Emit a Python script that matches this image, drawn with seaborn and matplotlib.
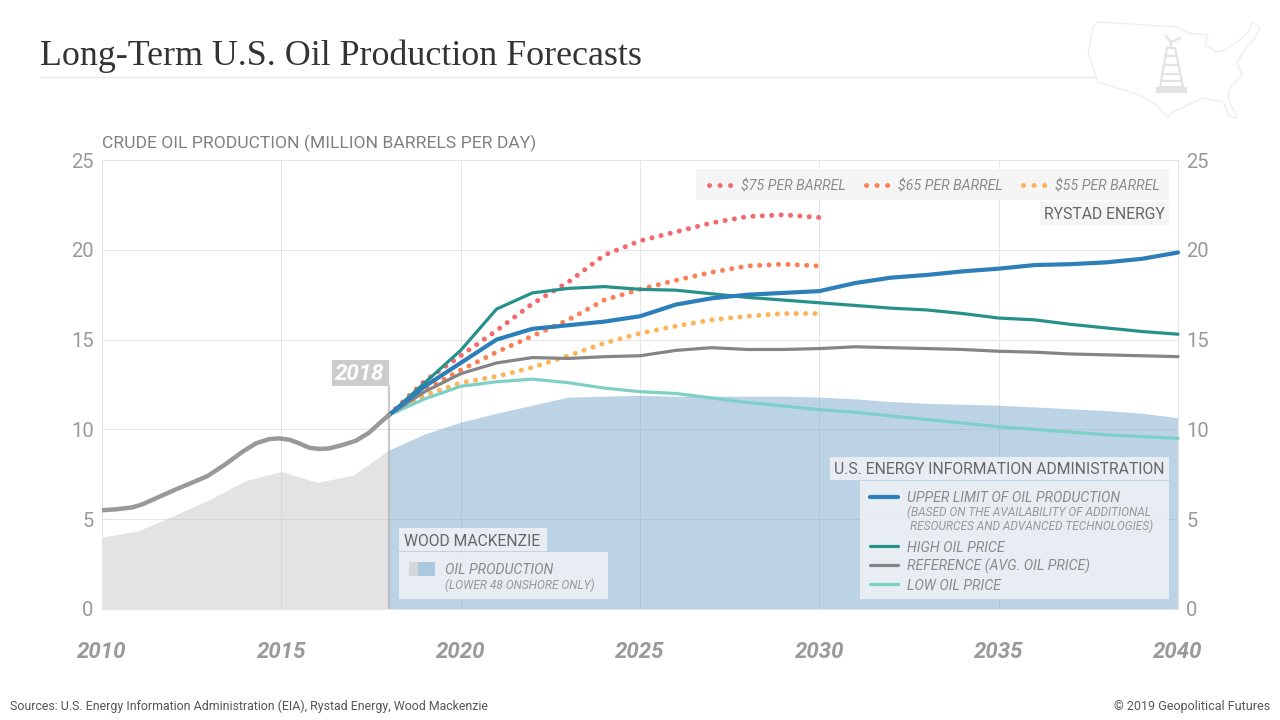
import matplotlib
matplotlib.use("Agg")
import matplotlib.pyplot as plt
from matplotlib.patches import Rectangle, Polygon
import seaborn as sns

# values
hist_years = [2010, 2010.39, 2010.85, 2011.13, 2011.6, 2012.06, 2012.53, 2012.94, 2013.45, 2013.92, 2014.29, 2014.66, 2014.94,
              2015.22, 2015.5, 2015.78, 2016.05, 2016.33, 2016.7, 2017.08, 2017.45, 2017.7, 2018]
hist_oil = [5.5, 5.55, 5.66, 5.83, 6.25, 6.66, 7.05, 7.4, 8.07, 8.76, 9.22, 9.46, 9.5,
            9.43, 9.22, 8.98, 8.91, 8.94, 9.13, 9.37, 9.82, 10.28, 10.8]

wm_years_past = list(range(2010, 2019))
wm_past = [4.0, 4.35, 5.2, 6.1, 7.15, 7.65, 7.05, 7.45, 8.85]
wm_years_future = list(range(2018, 2041))
wm_future = [8.85, 9.75, 10.4, 10.9, 11.35, 11.8, 11.85, 11.9, 11.85, 11.85, 11.85, 11.85, 11.8, 11.7,
             11.55, 11.45, 11.4, 11.35, 11.25, 11.15, 11.05, 10.9, 10.65]

eia_years = list(range(2018, 2041))
eia_upper = [10.8, 12.4, 13.7, 15.0, 15.6, 15.8, 16.0, 16.3, 16.95, 17.3, 17.5, 17.6, 17.7, 18.15,
             18.45, 18.6, 18.8, 18.95, 19.15, 19.2, 19.3, 19.5, 19.85]
eia_high = [10.8, 12.6, 14.4, 16.7, 17.6, 17.85, 17.95, 17.8, 17.75, 17.55, 17.35, 17.2, 17.05, 16.9,
            16.75, 16.65, 16.45, 16.2, 16.1, 15.85, 15.65, 15.45, 15.3]
eia_ref = [10.8, 12.1, 13.1, 13.7, 14.0, 13.95, 14.05, 14.1, 14.4, 14.55, 14.45, 14.45, 14.5, 14.6,
           14.55, 14.5, 14.45, 14.35, 14.3, 14.2, 14.15, 14.1, 14.05]
eia_low = [10.8, 11.7, 12.4, 12.65, 12.8, 12.6, 12.3, 12.1, 12.0, 11.75, 11.5, 11.3, 11.1, 10.95,
           10.75, 10.55, 10.35, 10.15, 10.0, 9.85, 9.7, 9.6, 9.5]

rystad_years = list(range(2018, 2031))
rystad_75 = [10.8, 12.7, 14.1, 15.5, 17.0, 18.2, 19.7, 20.5, 21.0, 21.5, 21.85, 21.95, 21.8]
rystad_65 = [10.8, 12.2, 13.3, 14.3, 15.2, 16.1, 17.2, 17.8, 18.3, 18.75, 19.1, 19.2, 19.1]
rystad_55 = [10.8, 11.9, 12.6, 12.95, 13.45, 14.1, 14.8, 15.35, 15.75, 16.1, 16.3, 16.45, 16.45]

x_ticks = [2010, 2015, 2020, 2025, 2030, 2035, 2040]
y_ticks = [0, 5, 10, 15, 20, 25]

sns.set_theme(style="white")
plt.rcParams["font.family"] = ["Roboto", "DejaVu Sans"]

GRID = "#e5e5e5"
fig = plt.figure(figsize=(12.8, 7.2), dpi=100, facecolor="white")
ax = fig.add_axes([102 / 1280, 111 / 720, 1076 / 1280, 449 / 720])
ax.set_xlim(2010, 2040)
ax.set_ylim(0, 25)
ax.set_xticks(x_ticks)
ax.set_yticks(y_ticks)
ax.grid(True, color=GRID, lw=0.75)
ax.set_axisbelow(True)
for s in ax.spines.values():
    s.set_color(GRID)
    s.set_linewidth(0.75)
ax.tick_params(axis="x", length=15, width=0.75, color=GRID, pad=8, labelsize=16, labelcolor="#999999")
ax.tick_params(axis="y", length=0, pad=6, labelsize=14.5, labelcolor="#999999", right=False, labelright=True)
for lab in ax.get_xticklabels():
    lab.set_fontweight("bold")
    lab.set_fontstyle("italic")

# Wood Mackenzie areas
ax.fill_between(wm_years_past, wm_past, color="#c9c9c9", alpha=0.5, lw=0)
ax.fill_between(wm_years_future, wm_future, color="#7ba9cf", alpha=0.5, lw=0)
ax.plot([2018, 2018], [0, 12.4], color="#a0a0a0", alpha=0.55, lw=1.6, zorder=2)

# dotted Rystad lines, then solid EIA lines on top
for vals, col in [(rystad_75, "#f4686f"), (rystad_65, "#fb8055"), (rystad_55, "#fdb358")]:
    sns.lineplot(x=rystad_years, y=vals, ax=ax, color=col, lw=3.6, linestyle=(0, (0.01, 1.87)),
                 dash_capstyle="round", errorbar=None, clip_on=False, zorder=3)
for vals, col, w in [(eia_low, "#7dd0c6", 2.3), (eia_ref, "#858585", 2.3), (eia_high, "#25918a", 2.3), (eia_upper, "#2c7fb8", 3.0)]:
    sns.lineplot(x=eia_years, y=vals, ax=ax, color=col, lw=w, errorbar=None, clip_on=False, zorder=4)
sns.lineplot(x=hist_years, y=hist_oil, ax=ax, color="#999999", lw=3.2, errorbar=None, zorder=4)
ax.set_xlabel("")
ax.set_ylabel("")

# overlay in pixel coordinates for boxes, labels and header
ov = fig.add_axes([0, 0, 1, 1], facecolor="none")
ov.set_xlim(0, 1280)
ov.set_ylim(720, 0)
ov.axis("off")


def box(x0, y0, x1, y1, col, alpha=1.0):
    ov.add_patch(Rectangle((x0, y0), x1 - x0, y1 - y0, fc=col, ec="none", alpha=alpha))


def label(x, y, s, size, col="#8a8a8a", italic=True, **kw):
    # va="center" sits a bit high for all-caps text
    ov.text(x, y + 1.5, s, fontsize=size, color=col, style="italic" if italic else "normal", va="center", **kw)


ov.text(40, 56, "Long-Term U.S. Oil Production Forecasts", family=["Liberation Serif", "DejaVu Serif"],
        fontsize=25.8, color="#333333", va="center")
ov.plot([40, 1095], [77, 77], color="#e6e6e6", lw=1)
label(102, 142, "CRUDE OIL PRODUCTION (MILLION BARRELS PER DAY)", 12.6, col="#808080", italic=False)
label(10, 705, "Sources: U.S. Energy Information Administration (EIA), Rystad Energy, Wood Mackenzie", 8.9,
      col="#555555", italic=False)
label(1270, 705, "\u00a9 2019 Geopolitical Futures", 9, col="#555555", italic=False, ha="right")

# 2018 flag
box(332, 360, 389, 386, "#cccccc")
label(360, 372, "2018", 16, col="white", fontweight="bold", ha="center")

# Rystad legend
box(696, 169, 1169, 200, "#f5f5f5")
box(1040, 202, 1169, 225, "#f5f5f5")
label(1165, 213, "RYSTAD ENERGY", 11.3, col="#666666", italic=False, ha="right")
for x0, col, s in [(709, "#f4686f", "$75 PER BARREL"), (866, "#fb8055", "$65 PER BARREL"), (1023, "#fdb358", "$55 PER BARREL")]:
    ov.plot([x0, x0 + 21.5], [185, 185], color=col, lw=3.6, linestyle=(0, (0.01, 2.1)), dash_capstyle="round")
    label(x0 + 32, 185, s.replace("$", r"\$"), 10.2)

# Wood Mackenzie legend
box(399, 528, 547, 551, "#eef1f4", 0.88)
box(399, 552, 608, 599, "#eef1f4", 0.88)
label(404, 540, "WOOD MACKENZIE", 11.3, col="#666666", italic=False)
box(409, 562, 418, 576, "#d3d6da")
box(418, 562, 435, 576, "#abc8df")
label(445, 569, "OIL PRODUCTION", 10.2)
label(445, 584, "(LOWER 48 ONSHORE ONLY)", 8.6, col="#999999")

# EIA legend
box(830, 457, 1169, 480, "#eef1f4", 0.88)
box(860, 481, 1169, 599, "#eef1f4", 0.88)
label(1165, 468, "U.S. ENERGY INFORMATION ADMINISTRATION", 11.3, col="#666666", italic=False, ha="right")
for yy, col, w in [(497, "#2c7fb8", 3.0), (546, "#25918a", 2.3), (565, "#858585", 2.3), (584, "#7dd0c6", 2.3)]:
    ov.plot([870, 898], [yy, yy], color=col, lw=w, solid_capstyle="round")
label(907, 497, "UPPER LIMIT OF OIL PRODUCTION", 10.2)
label(907, 511, "(BASED ON THE AVAILABILITY OF ADDITIONAL", 8.6, col="#999999")
label(910, 525, "RESOURCES AND ADVANCED TECHNOLOGIES)", 8.6, col="#999999")
label(907, 546, "HIGH OIL PRICE", 10.2)
label(907, 565, "REFERENCE (AVG. OIL PRICE)", 10.2)
label(907, 584, "LOW OIL PRICE", 10.2)

# faint US map with derrick, top right
us_x = [1098, 1177, 1188, 1208, 1205, 1217, 1225, 1240, 1250, 1252, 1260, 1252, 1243, 1237, 1242, 1230, 1228, 1237, 1230,
        1223, 1203, 1173, 1168, 1157, 1140, 1117, 1098, 1088, 1093]
us_y = [22, 27, 33, 35, 45, 52, 50, 40, 30, 22, 28, 42, 52, 63, 75, 88, 98, 118, 117,
        102, 98, 112, 118, 105, 95, 88, 82, 53, 27]
ov.add_patch(Polygon(list(zip(us_x, us_y)), closed=True, fc="none", ec="#ebebeb", lw=0.8))
rig = "#e3e3e3"
ov.add_patch(Polygon([(1160, 87), (1183, 87), (1175, 48), (1167, 48)], closed=True, fc="none", ec=rig, lw=1.6))
box(1156, 87, 1187, 93, rig)
for yy, x0, x1 in [(56, 1165, 1177), (65, 1164, 1178), (74, 1162, 1180), (81, 1161, 1182)]:
    ov.plot([x0, x1], [yy, yy], color=rig, lw=1.6)
ov.plot([1171, 1171, 1166], [47, 42, 36], color=rig, lw=1.8)
ov.plot([1171, 1180], [42, 38], color=rig, lw=1.8)

fig.savefig("out.png", dpi=100)
